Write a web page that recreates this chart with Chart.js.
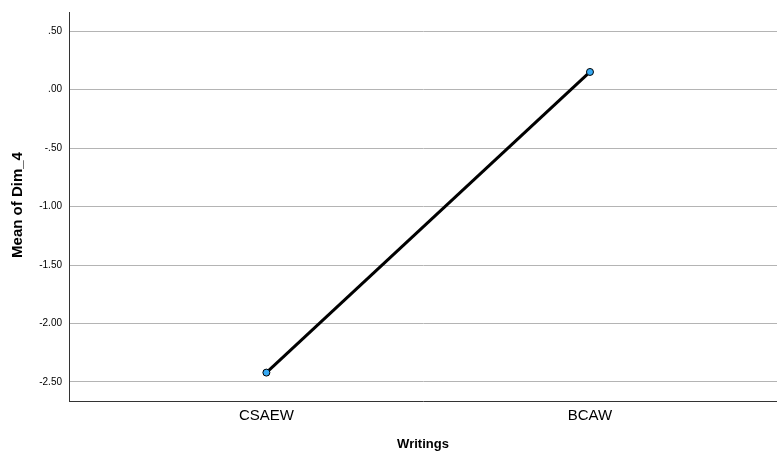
<!DOCTYPE html>
<html>
<head>
<meta charset="utf-8">
<script src="https://cdn.jsdelivr.net/npm/chart.js@4/dist/chart.umd.min.js"></script>
<style>
  html, body { margin: 0; padding: 0; background: #fff; }
  canvas { display: block; }
</style>
</head>
<body>
<canvas id="meanChart" width="777" height="451"></canvas>
<script>
// values
const categories = ['CSAEW', 'BCAW'];
const meanDim4 = [-2.42, 0.152];
const yTickValues = [0.5, 0, -0.5, -1, -1.5, -2, -2.5];
const yTitle = 'Mean of Dim_4';
const xTitle = 'Writings';

// SPSS style: ".50", "-1.00"
function spssFormat(v) {
  return v.toFixed(2).replace(/^(-?)0\./, '$1.');
}

// y title drawn by hand so its size/position can be tuned freely
const yTitlePlugin = {
  id: 'yTitle',
  afterDraw(chart) {
    const c = chart.ctx;
    c.save();
    c.translate(18, 205);
    c.rotate(-Math.PI / 2);
    c.font = 'bold 15px "Liberation Sans", Arial';
    c.fillStyle = '#000';
    c.textAlign = 'center';
    c.textBaseline = 'middle';
    c.fillText(yTitle, 0, 0);
    c.restore();
  }
};

const ctx = document.getElementById('meanChart').getContext('2d');
new Chart(ctx, {
  type: 'line',
  data: {
    datasets: [{
      label: yTitle,
      data: meanDim4.map((v, i) => ({ x: i, y: v })),
      borderColor: '#000',
      borderWidth: 3,
      pointBackgroundColor: '#36a9f4',
      pointBorderColor: '#000',
      pointBorderWidth: 1,
      pointRadius: 3.5,
      tension: 0
    }]
  },
  plugins: [yTitlePlugin],
  options: {
    responsive: false,
    animation: false,
    layout: { autoPadding: false, padding: { top: 12, right: 0, left: 0, bottom: 0 } },
    plugins: { legend: { display: false }, tooltip: { enabled: false } },
    scales: {
      x: {
        type: 'linear',
        min: -0.61,
        max: 1.578,
        afterBuildTicks: axis => { axis.ticks = categories.map((c, i) => ({ value: i })); },
        afterFit: axis => { axis.height = 50; axis.paddingRight = 0; axis.paddingLeft = 0; },
        grid: { display: false, drawTicks: false },
        border: { color: '#333', width: 1 },
        ticks: {
          color: '#000',
          padding: 6,
          font: { family: 'Liberation Sans, Arial', size: 15 },
          callback: v => categories[v]
        },
        title: {
          display: true,
          text: xTitle,
          color: '#000',
          padding: { top: 0, bottom: -1 },
          font: { family: 'Liberation Sans, Arial', size: 13, weight: 'bold' }
        }
      },
      y: {
        min: -2.663,
        max: 0.665,
        afterBuildTicks: axis => { axis.ticks = yTickValues.map(v => ({ value: v })); },
        afterFit: axis => { axis.width = 69; axis.paddingTop = 0; axis.paddingBottom = 0; },
        grid: { color: '#b4b4b4', drawTicks: false },
        border: { color: '#333', width: 1 },
        ticks: {
          color: '#000',
          padding: 7,
          font: { family: 'Liberation Sans, Arial', size: 10 },
          callback: v => spssFormat(v)
        },
        title: { display: false }
      }
    }
  }
});
</script>
</body>
</html>
